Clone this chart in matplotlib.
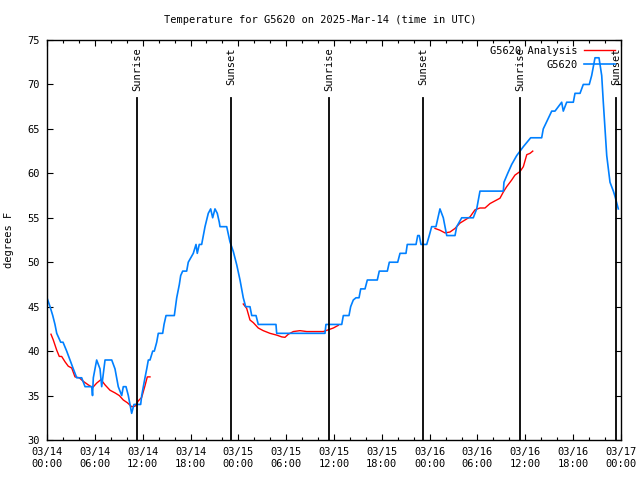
import numpy as np
import matplotlib
matplotlib.use("Agg")
import matplotlib.pyplot as plt

# hours since 2025-03-14 00:00 UTC
obs_hours = [0, 0.38, 0.72, 1.00, 1.22, 1.72, 2.01, 2.47, 2.88, 3.30, 3.73, 4.35, 4.77,
             5.61, 5.71, 5.81, 6.23, 6.65, 6.86, 7.28, 8.12, 8.53, 8.94, 9.37, 9.57,
             9.91, 10.20, 10.62, 10.91, 11.75, 11.88, 12.08, 12.29, 12.51, 12.71, 12.92,
             13.26, 13.46, 13.76, 13.96, 14.51, 14.68, 14.93, 15.97, 16.27, 16.60, 16.77,
             17.02, 17.52, 17.72, 18.15, 18.35, 18.69, 18.85, 19.10, 19.40, 19.61, 19.82,
             20.23, 20.53, 20.78, 21.07, 21.36, 21.61, 21.70, 22.54, 22.95, 23.37, 23.80,
             24.21, 24.62, 24.92, 25.46, 25.68, 26.22, 26.50, 28.72, 28.81, 34.87, 34.99,
             36.97, 37.17, 37.88, 38.09, 38.42, 38.76, 39.14, 39.35, 39.89, 40.18, 41.43,
             41.68, 42.69, 42.94, 43.99, 44.28, 45.03, 45.19, 46.29, 46.50, 46.70, 46.91,
             47.63, 47.95, 48.25, 48.79, 49.29, 49.71, 50.14, 51.18, 51.39, 52.02, 53.47,
             53.90, 54.31, 57.24, 57.32, 57.79, 58.29, 58.92, 59.75, 60.67, 62.05, 62.25,
             63.31, 63.72, 64.56, 64.76, 65.19, 66.02, 66.23, 66.86, 67.27, 68.02, 68.32,
             68.74, 69.24, 69.58, 69.78, 70.21, 70.62, 71.04, 71.25, 71.66]
obs_temp = [46, 45, 44, 43, 42, 41, 41, 40, 39, 38, 37, 37, 36,
            36, 35, 37, 39, 38, 36, 39, 39, 38, 36, 35, 36,
            36, 35, 33, 34, 34, 35, 36, 37, 38, 39, 39,
            40, 40, 41, 42, 42, 43, 44, 44, 46, 47.5, 48.5,
            49, 49, 50, 50.7, 51, 52, 51, 52, 52, 53, 54,
            55.5, 56, 55, 56, 55.5, 54.5, 54, 54, 52.3, 51.2, 49.7,
            48, 46, 45, 45, 44, 44, 43, 43, 42, 42, 43,
            43, 44, 44, 45, 45.75, 46, 46, 47, 47, 48, 48,
            49, 49, 50, 50, 51, 51, 52, 52, 53, 53, 52,
            52, 53, 54, 54, 56, 55, 53, 53, 54, 55, 55,
            56, 58, 58, 59, 60, 61, 62, 63, 64, 64, 65,
            67, 67, 68, 67, 68, 68, 69, 69, 70, 70, 71,
            73, 73, 71, 68, 62, 59, 58, 57.4, 56]

ana_hours_1 = [0.50, 0.79, 1.22, 1.54, 1.84, 2.26, 2.67, 3.10, 3.51, 4.05, 4.55, 5.18,
               5.73, 6.23, 6.77, 7.28, 7.90, 8.53, 9.07, 9.57, 10.07, 10.62, 11.04,
               11.45, 11.88, 12.29, 12.58, 12.92]
ana_temp_1 = [41.9, 41.25, 40.1, 39.4, 39.4, 38.8, 38.3, 38.1, 37.1, 37.0, 36.6, 36.2,
              35.9, 36.4, 36.8, 36.2, 35.6, 35.3, 35.0, 34.5, 34.2, 33.75, 33.8,
              34.4, 34.8, 36.1, 37.1, 37.1]
ana_hours_2 = [24.62, 25.05, 25.46, 25.88, 26.50, 27.13, 27.97, 28.81, 29.44, 29.85,
               30.27, 30.90, 31.74, 32.58, 34.66, 35.29, 35.92, 36.54]
ana_temp_2 = [45.3, 44.8, 43.5, 43.2, 42.6, 42.3, 42.0, 41.8, 41.6, 41.55,
              41.9, 42.2, 42.3, 42.2, 42.2, 42.4, 42.6, 42.9]
ana_hours_3 = [48.67, 49.29, 49.92, 50.55, 51.18, 51.80, 52.43, 53.06, 53.69, 54.31,
               54.94, 55.57, 56.19, 56.82, 57.24, 57.66, 58.29, 58.70, 59.33, 59.75,
               60.18, 60.59, 60.93]
ana_temp_3 = [53.8, 53.6, 53.3, 53.4, 53.8, 54.4, 54.75, 55.1, 55.9, 56.1,
              56.1, 56.6, 56.9, 57.2, 57.9, 58.5, 59.25, 59.8, 60.2, 60.75,
              62.1, 62.25, 62.5]

sun_hours = [11.29, 23.08, 35.37, 47.16, 59.33, 71.37]
sun_names = ["Sunrise", "Sunset", "Sunrise", "Sunset", "Sunrise", "Sunset"]

xtick_hours = [0, 6, 12, 18, 24, 30, 36, 42, 48, 54, 60, 66, 72]
xtick_labels = ["03/14\n00:00", "03/14\n06:00", "03/14\n12:00", "03/14\n18:00",
                "03/15\n00:00", "03/15\n06:00", "03/15\n12:00", "03/15\n18:00",
                "03/16\n00:00", "03/16\n06:00", "03/16\n12:00", "03/16\n18:00",
                "03/17\n00:00"]

plt.rcParams["font.family"] = "DejaVu Sans Mono"
fs = 7.5

fig = plt.figure(figsize=(6.4, 4.8), dpi=100)
ax = fig.add_axes([47 / 640, 40 / 480, 574 / 640, 400 / 480])

red = "#ff0000"
blue = "#0080ff"
ana_h = ana_hours_1 + [np.nan] + ana_hours_2 + [np.nan] + ana_hours_3
ana_t = ana_temp_1 + [np.nan] + ana_temp_2 + [np.nan] + ana_temp_3
ax.plot(ana_h, ana_t, color=red, lw=1.0, label="G5620 Analysis")
ax.plot(obs_hours, obs_temp, color=blue, lw=1.2, label="G5620")

# sunrise / sunset markers
for h, name in zip(sun_hours, sun_names):
    ax.plot([h, h], [30, 68.5], color="black", lw=1.3)
    ax.text(h, 74.2, name, rotation=90, ha="center", va="top", fontsize=fs)

ax.set_xlim(0, 72)
ax.set_ylim(30, 75)
ax.set_xticks(xtick_hours)
ax.set_xticklabels(xtick_labels, fontsize=fs)
ax.set_xticks(np.arange(0, 73, 2), minor=True)
ax.set_yticks(np.arange(30, 76, 5))
ax.tick_params(axis="y", labelsize=fs)
ax.tick_params(which="major", direction="in", length=4, width=0.8,
               top=True, right=True, pad=5)
ax.tick_params(which="minor", direction="in", length=2.2, width=0.8,
               top=True, right=False, left=False)
for s in ax.spines.values():
    s.set_linewidth(1.0)

ax.set_ylabel("degrees F", fontsize=fs, labelpad=10)
fig.text(0.5, 1 - 20 / 480, "Temperature for G5620 on 2025-Mar-14 (time in UTC)",
         ha="center", va="center", fontsize=fs)

ax.legend(loc="upper right", frameon=False, markerfirst=False, fontsize=fs,
          handlelength=3.0, handletextpad=0.6, labelspacing=0.4,
          borderaxespad=0.35, borderpad=0.2)

fig.savefig("out.png", dpi=100)
